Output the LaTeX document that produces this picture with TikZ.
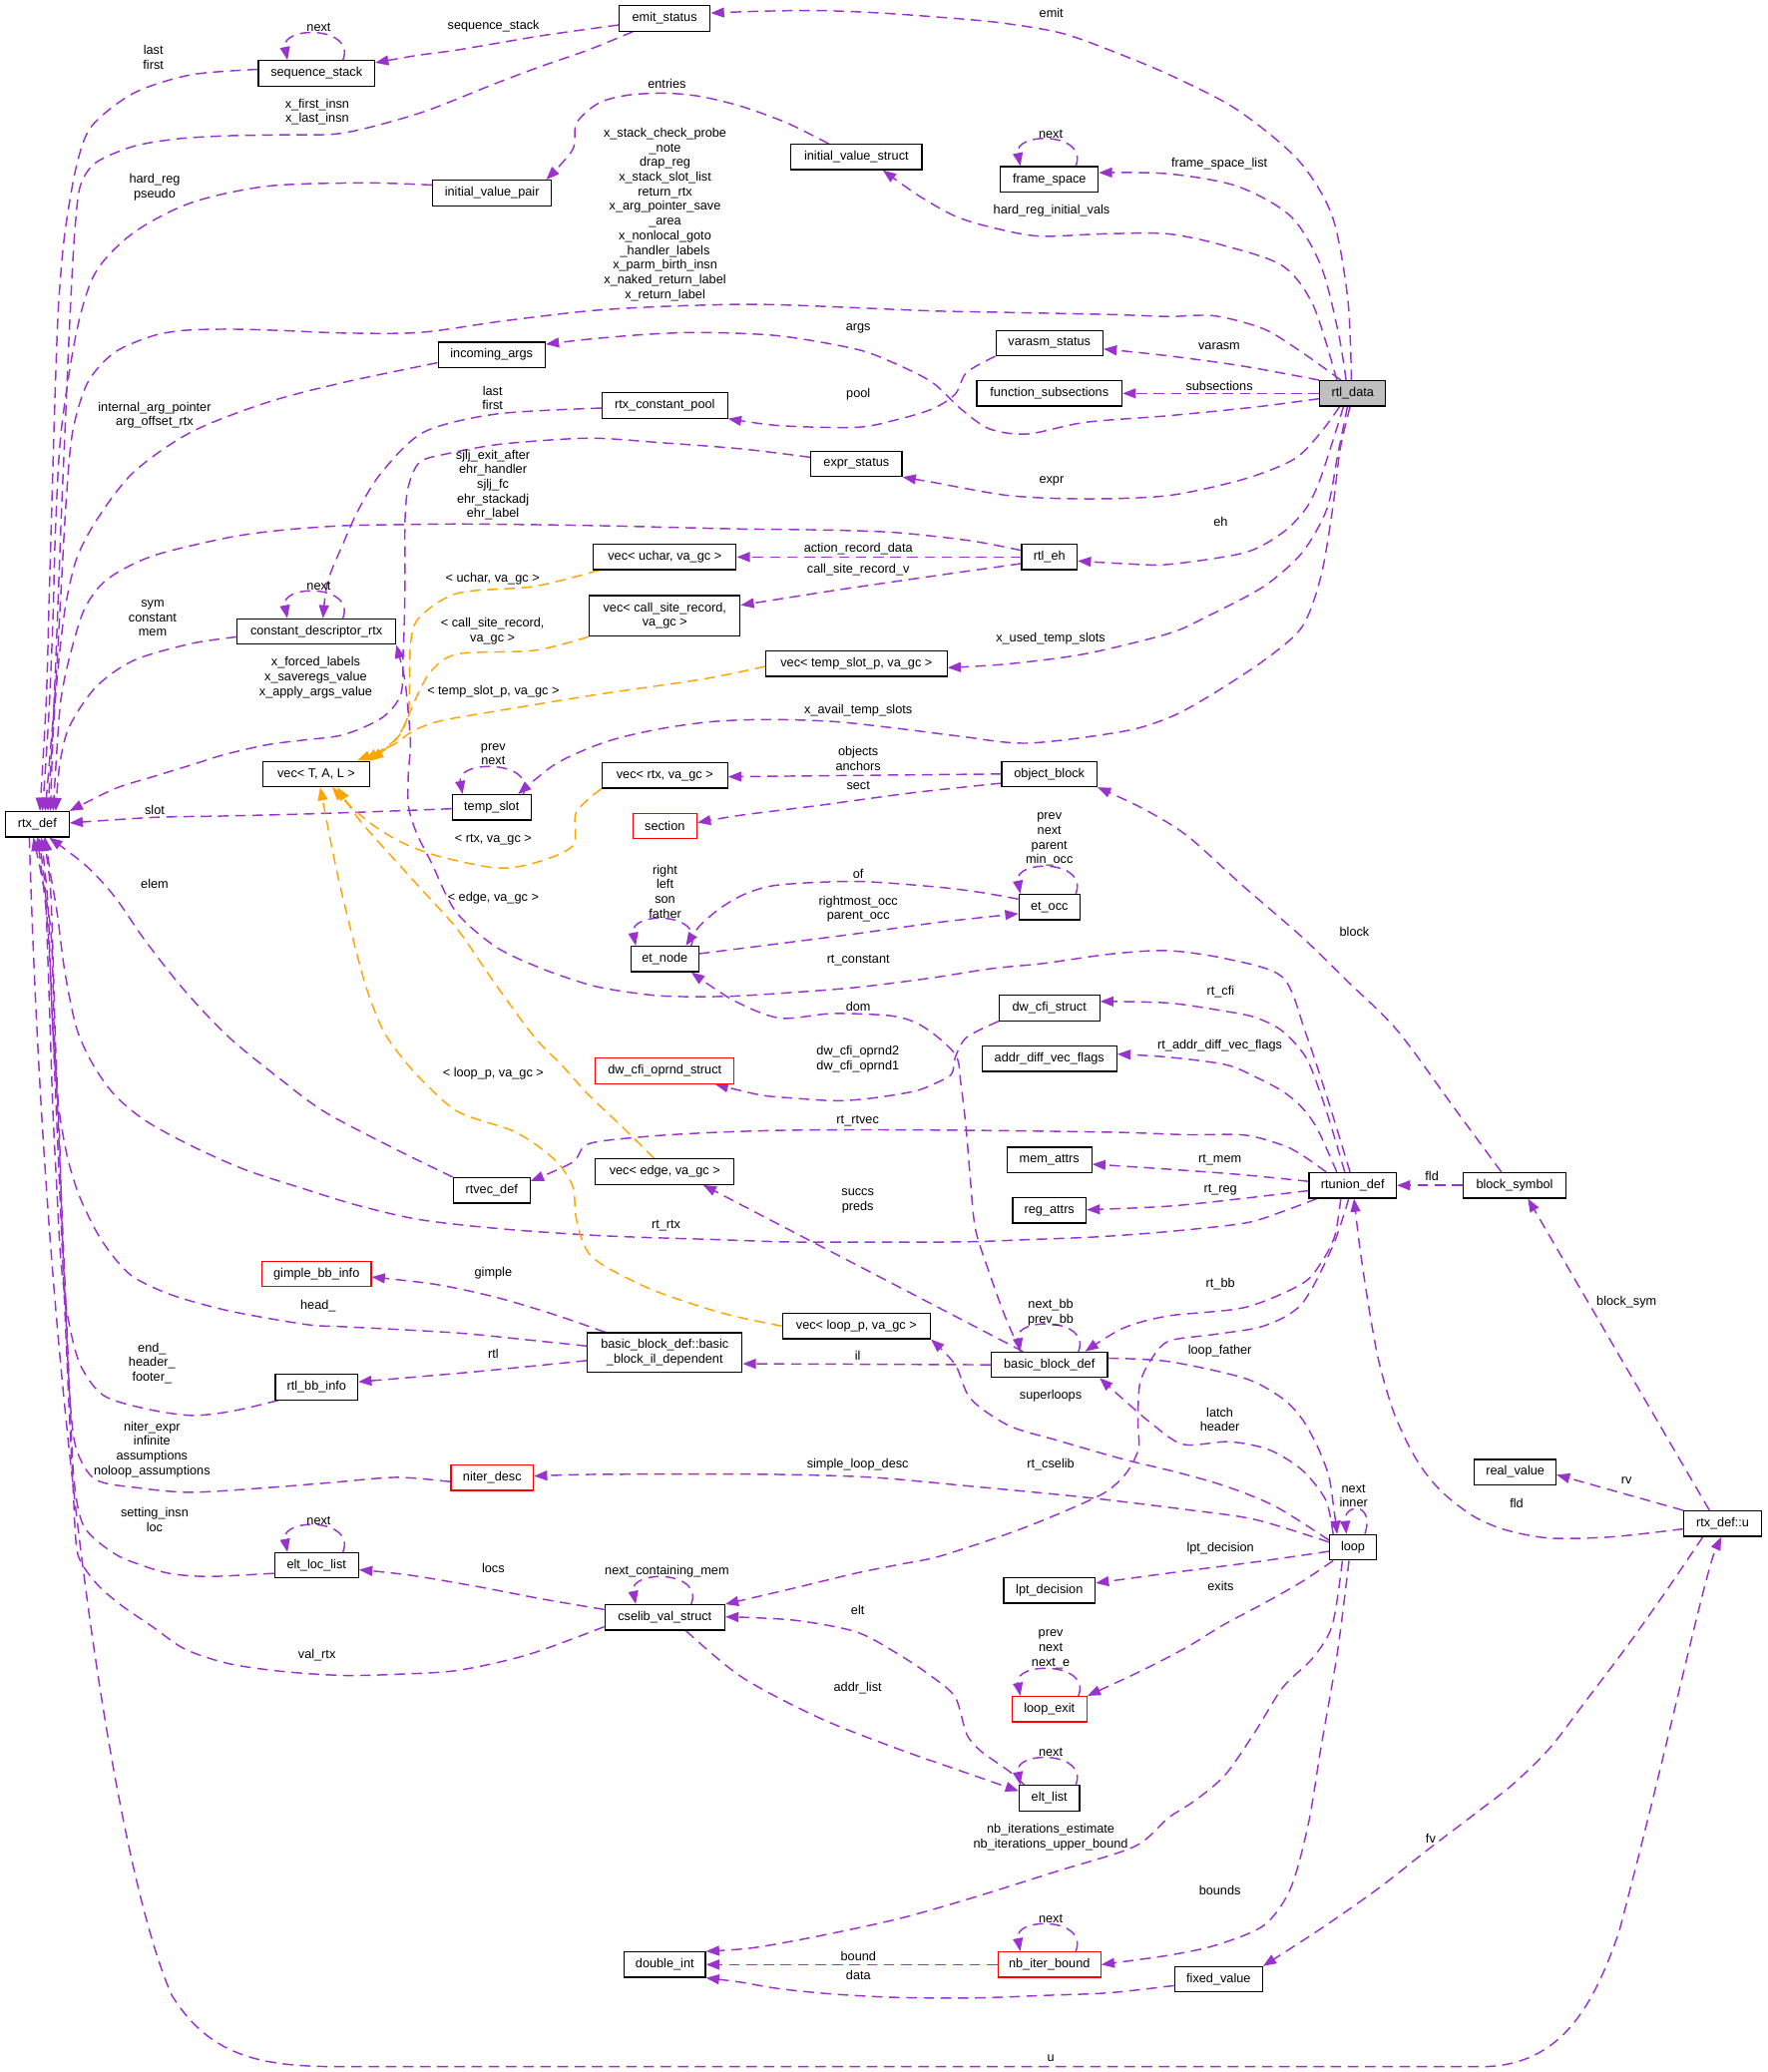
\documentclass[tikz,border=0pt]{standalone}
\usepackage{fontspec}
\setmainfont{Liberation Sans}
\usetikzlibrary{arrows.meta,backgrounds}
\definecolor{memberedge}{HTML}{9A32CD}
\definecolor{templedge}{HTML}{FFA500}
\definecolor{focusfill}{HTML}{BFBFBF}
\begin{document}
\begin{tikzpicture}[x=1pt,y=-1pt,
cls/.style={draw=black,fill=white,line width=0.9pt,inner sep=0pt,minimum height=19.2pt,font=\fontsize{9.6}{11.1}\selectfont,align=center},
undoc/.style={cls,draw=red},
focus/.style={cls,fill=focusfill},
lbl/.style={inner sep=0pt,font=\fontsize{9.6}{11.1}\selectfont,align=center},
member/.style={draw=memberedge,line width=1.1pt,dash pattern=on 8pt off 5pt,-{Triangle[length=10pt,width=7.5pt]}},
templ/.style={member,draw=templedge}]
\useasboundingbox (0,0) rectangle (1337,1568);
\node[cls,minimum width=69] (emit) at (502.9,13.9) {emit\_status};
\node[cls,minimum width=88] (seqstack) at (239.5,55.5) {sequence\_stack};
\node[cls,minimum width=99] (ivstruct) at (648,118.8) {initial\_value\_struct};
\node[cls,minimum width=74] (framesp) at (794,135.7) {frame\_space};
\node[cls,minimum width=90] (ivpair) at (372.3,146) {initial\_value\_pair};
\node[cls,minimum width=81] (incargs) at (372,268.5) {incoming\_args};
\node[cls,minimum width=81] (varasm) at (794,259.6) {varasm\_status};
\node[cls,minimum width=110] (funcsub) at (794,297.7) {function\_subsections};
\node[focus,minimum width=50] (rtldata) at (1023.5,297.7) {rtl\_data};
\node[cls,minimum width=95] (cpool) at (503,306.8) {rtx\_constant\_pool};
\node[cls,minimum width=69] (exprst) at (648,351) {expr\_status};
\node[cls,minimum width=42] (rtleh) at (794,421.5) {rtl\_eh};
\node[cls,minimum width=108] (vecuchar) at (503,421.5) {vec< uchar, va\_gc >};
\node[cls,minimum width=114,minimum height=30.7] (veccsr) at (503,466) {vec< call\_site\_record,\\va\_gc >};
\node[cls,minimum width=137] (vectsp) at (648,502.3) {vec< temp\_slot\_p, va\_gc >};
\node[cls,minimum width=120] (cdr) at (239.4,478) {constant\_descriptor\_rtx};
\node[cls,minimum width=81] (vectal) at (239.3,585.7) {vec< T, A, L >};
\node[cls,minimum width=59.5] (tempslot) at (372,611) {temp\_slot};
\node[cls,minimum width=48] (rtxdef) at (28.2,623.8) {rtx\_def};
\node[cls,minimum width=95] (vecrtx) at (503,586.8) {vec< rtx, va\_gc >};
\node[cls,minimum width=72] (objblock) at (794,585.7) {object\_block};
\node[undoc,minimum width=48.6] (section) at (503,625) {section};
\node[cls,minimum width=46] (etocc) at (794,686.4) {et\_occ};
\node[cls,minimum width=51.4] (etnode) at (503,725.7) {et\_node};
\node[cls,minimum width=76] (dwcfi) at (794,762.8) {dw\_cfi\_struct};
\node[undoc,minimum width=105] (dwcfiop) at (503,810.4) {dw\_cfi\_oprnd\_struct};
\node[cls,minimum width=102] (adfv) at (794,801.2) {addr\_diff\_vec\_flags};
\node[cls,minimum width=64] (memattrs) at (794,877.7) {mem\_attrs};
\node[cls,minimum width=55.5] (regattrs) at (794,916) {reg\_attrs};
\node[cls,minimum width=58] (rtvecdef) at (372,900.8) {rtvec\_def};
\node[cls,minimum width=105] (vecedge) at (503,886.7) {vec< edge, va\_gc >};
\node[cls,minimum width=66] (rtunion) at (1023.5,897) {rtunion\_def};
\node[cls,minimum width=78] (blocksym) at (1146,897) {block\_symbol};
\node[undoc,minimum width=82.6] (gimplebb) at (239.5,964) {gimple\_bb\_info};
\node[cls,minimum width=112] (vecloop) at (648,1003.5) {vec< loop\_p, va\_gc >};
\node[cls,minimum width=117,minimum height=30] (bbil) at (503,1023.6) {basic\_block\_def::basic\\\_block\_il\_dependent};
\node[cls,minimum width=88] (bbdef) at (794,1032.8) {basic\_block\_def};
\node[cls,minimum width=62.4] (rtlbb) at (239.5,1049.7) {rtl\_bb\_info};
\node[cls,minimum width=61.6] (realval) at (1146.5,1114) {real\_value};
\node[undoc,minimum width=62.4] (niterdesc) at (372.4,1118.3) {niter\_desc};
\node[cls,minimum width=58.7] (rtxu) at (1303.4,1153) {rtx\_def::u};
\node[cls,minimum width=35.4] (loopn) at (1023.7,1171) {loop};
\node[cls,minimum width=63.6] (eltloc) at (239.5,1184.6) {elt\_loc\_list};
\node[cls,minimum width=69] (lptdec) at (794,1203.6) {lpt\_decision};
\node[cls,minimum width=90.7] (cselib) at (503,1224) {cselib\_val\_struct};
\node[undoc,minimum width=56.6] (loopexit) at (794,1293.4) {loop\_exit};
\node[cls,minimum width=45.6] (eltlist) at (794,1360.8) {elt\_list};
\node[cls,minimum width=61.5] (dblint) at (503,1486.7) {double\_int};
\node[undoc,minimum width=77.7] (nbiter) at (794,1486.7) {nb\_iter\_bound};
\node[cls,minimum width=66.4] (fixedval) at (922,1497.9) {fixed\_value};
\node[lbl] (l1) at (795.5,9.6) {emit};
\node[lbl] (l2) at (373.4,20.1) {sequence\_stack};
\node[lbl] (l3) at (241.2,20.9) {next};
\node[lbl] (l4) at (116,43.2) {last\\first};
\node[lbl] (l5) at (240,84.7) {x\_first\_insn\\x\_last\_insn};
\node[lbl] (l6) at (504.6,63.2) {entries};
\node[lbl] (l7) at (503.2,162.3) {x\_stack\_check\_probe\\\_note\\drap\_reg\\x\_stack\_slot\_list\\return\_rtx\\x\_arg\_pointer\_save\\\_area\\x\_nonlocal\_goto\\\_handler\_labels\\x\_parm\_birth\_insn\\x\_naked\_return\_label\\x\_return\_label};
\node[lbl] (l8) at (795,101.7) {next};
\node[lbl] (l9) at (922.6,123.6) {frame\_space\_list};
\node[lbl] (l10) at (117,141.8) {hard\_reg\\pseudo};
\node[lbl] (l11) at (795.7,159.8) {hard\_reg\_initial\_vals};
\node[lbl] (l12) at (649.4,248.6) {args};
\node[lbl] (l13) at (922.5,261.7) {varasm};
\node[lbl] (l14) at (922.6,291.9) {subsections};
\node[lbl] (l15) at (649.4,298.2) {pool};
\node[lbl] (l16) at (117,314.2) {internal\_arg\_pointer\\arg\_offset\_rtx};
\node[lbl] (l17) at (372.7,301.2) {last\\first};
\node[lbl] (l18) at (373,367) {sjlj\_exit\_after\\ehr\_handler\\sjlj\_fc\\ehr\_stackadj\\ehr\_label};
\node[lbl] (l19) at (795.6,364.4) {expr};
\node[lbl] (l20) at (923.6,394.5) {eh};
\node[lbl] (l21) at (649.4,415.7) {action\_record\_data};
\node[lbl] (l22) at (649.4,431) {call\_site\_record\_v};
\node[lbl] (l23) at (241.2,443.7) {next};
\node[lbl] (l24) at (372.7,437.9) {< uchar, va\_gc >};
\node[lbl] (l25) at (115.5,468) {sym\\constant\\mem};
\node[lbl] (l26) at (372.7,477.4) {< call\_site\_record,\\va\_gc >};
\node[lbl] (l27) at (795,483) {x\_used\_temp\_slots};
\node[lbl] (l28) at (238.9,512.9) {x\_forced\_labels\\x\_saveregs\_value\\x\_apply\_args\_value};
\node[lbl] (l29) at (373.2,523.3) {< temp\_slot\_p, va\_gc >};
\node[lbl] (l30) at (649.4,537.4) {x\_avail\_temp\_slots};
\node[lbl] (l31) at (373.2,570.8) {prev\\next};
\node[lbl] (l32) at (649.4,573.9) {objects\\anchors};
\node[lbl] (l33) at (649.4,594.8) {sect};
\node[lbl] (l34) at (117,612.7) {slot};
\node[lbl] (l35) at (373.2,635.1) {< rtx, va\_gc >};
\node[lbl] (l36) at (794,635.3) {prev\\next\\parent\\min\_occ};
\node[lbl] (l37) at (503.2,674.6) {right\\left\\son\\father};
\node[lbl] (l38) at (649.4,661.2) {of};
\node[lbl] (l39) at (117,669.1) {elem};
\node[lbl] (l40) at (373.2,679.8) {< edge, va\_gc >};
\node[lbl] (l41) at (649.4,688) {rightmost\_occ\\parent\_occ};
\node[lbl] (l42) at (1024.8,705.3) {block};
\node[lbl] (l43) at (649.4,726.5) {rt\_constant};
\node[lbl] (l44) at (923.6,750.8) {rt\_cfi};
\node[lbl] (l45) at (649.4,761.4) {dom};
\node[lbl] (l46) at (923,791.6) {rt\_addr\_diff\_vec\_flags};
\node[lbl] (l47) at (649.1,801.6) {dw\_cfi\_oprnd2\\dw\_cfi\_oprnd1};
\node[lbl] (l48) at (373.2,812.6) {< loop\_p, va\_gc >};
\node[lbl] (l49) at (649,848.3) {rt\_rtvec};
\node[lbl] (l50) at (923,877.9) {rt\_mem};
\node[lbl] (l51) at (649,908.6) {succs\\preds};
\node[lbl] (l52) at (923.4,900.6) {rt\_reg};
\node[lbl] (l53) at (1083.4,890) {fld};
\node[lbl] (l54) at (504,927.7) {rt\_rtx};
\node[lbl] (l55) at (373.2,963.1) {gimple};
\node[lbl] (l56) at (923.4,971.6) {rt\_bb};
\node[lbl] (l57) at (1230.7,985.2) {block\_sym};
\node[lbl] (l58) at (795,993) {next\_bb\\prev\_bb};
\node[lbl] (l59) at (240.7,988.2) {head\_};
\node[lbl] (l60) at (923,1022.6) {loop\_father};
\node[lbl] (l61) at (649,1025.9) {il};
\node[lbl] (l62) at (115,1031.6) {end\_\\header\_\\footer\_};
\node[lbl] (l63) at (373.2,1024.2) {rtl};
\node[lbl] (l64) at (795,1056.5) {superloops};
\node[lbl] (l65) at (923,1074.3) {latch\\header};
\node[lbl] (l66) at (115,1096.8) {niter\_expr\\infinite\\assumptions\\noloop\_assumptions};
\node[lbl] (l67) at (649,1108.6) {simple\_loop\_desc};
\node[lbl] (l68) at (795,1108.6) {rt\_cselib};
\node[lbl] (l69) at (1230.7,1120.3) {rv};
\node[lbl] (l70) at (1024.2,1131.9) {next\\inner};
\node[lbl] (l71) at (1147.5,1138) {fld};
\node[lbl] (l72) at (117,1150) {setting\_insn\\loc};
\node[lbl] (l73) at (241.2,1150.5) {next};
\node[lbl] (l74) at (923.4,1171.7) {lpt\_decision};
\node[lbl] (l75) at (373.2,1186.9) {locs};
\node[lbl] (l76) at (504.6,1189.4) {next\_containing\_mem};
\node[lbl] (l77) at (923.6,1200.6) {exits};
\node[lbl] (l78) at (649,1218.6) {elt};
\node[lbl] (l79) at (795,1248) {prev\\next\\next\_e};
\node[lbl] (l80) at (239.8,1252.9) {val\_rtx};
\node[lbl] (l81) at (649,1277.8) {addr\_list};
\node[lbl] (l82) at (795,1326.2) {next};
\node[lbl] (l83) at (795,1390.4) {nb\_iterations\_estimate\\nb\_iterations\_upper\_bound};
\node[lbl] (l84) at (1082.5,1391) {fv};
\node[lbl] (l85) at (923,1430.2) {bounds};
\node[lbl] (l86) at (795,1452.4) {next};
\node[lbl] (l87) at (649.5,1480) {bound};
\node[lbl] (l88) at (649.5,1495) {data};
\node[lbl] (l89) at (795,1557.9) {u};
\begin{scope}[on background layer]
\draw[member] plot[smooth] coordinates {([xshift=-1]rtldata.north) (1019.8,226.5) (1008,163.6) (982,120.8) (936,83) (890,59) (850,42) (803.6,25.2) (755,17) (705.4,12.6) (660,9.5) (618.8,8) (575,8.5) ([yshift=4]emit.east)};
\draw[member] plot[smooth] coordinates {([xshift=-5]rtldata.north) (1012.6,251.6) (999.5,201.3) (976.5,163.6) (936,140.9) (884,131.5) ([yshift=5]framesp.east)};
\draw[member] plot[smooth] coordinates {([xshift=-12]rtldata.north) (993.8,231.5) (970.7,201.3) (927.4,186.2) (884,177) (835,177) (786,178.7) (750,172) (722.8,163.6) (695,148) ([xshift=20]ivstruct.south)};
\draw[member] plot[smooth] coordinates {([xshift=-9]rtldata.north) (985.2,266.7) (956.3,249) (918.7,239) (884,239.5) (840,238) (790,237) (740,236) (705.4,235.3) (650,233) (600,231) (561,230.3) (500,232) (445.4,235.3) (380,243) (317.8,251.6) (260,252) (210,250) (173.3,249.1) (140,250) (115.5,254.2) (86.7,266.7) (66.4,289.4) (54.9,327.1) (50,380) (46,450) (42,520) ([xshift=6]rtxdef.north)};
\draw[member] plot[smooth] coordinates {(rtldata.north west) (940,277) (884,269.3) ([yshift=-4.5]varasm.east)};
\draw[member] (rtldata.west) -- (funcsub.east);
\draw[member] plot[smooth] coordinates {([yshift=-4]rtldata.west) (950,308) (884,314.6) (821,319.6) (777.6,328.4) (748.8,324.6) (727.1,309.5) (705.4,289.4) (677,275) (647.7,264.2) (589.8,254.2) (532,251.6) (490,253) (445.4,256.7) ([yshift=8]incargs.east)};
\draw[member] plot[smooth] coordinates {(varasm.south west) (731.4,281.8) (722.8,298.2) (705.4,309.5) (677,318) (647.7,323.4) (589.8,322.1) (cpool.south east)};
\draw[member] plot[smooth] coordinates {([xshift=-10]rtldata.south) (999.5,327.1) (979.4,347.3) (941.8,362.4) (884,375) (821,377.5) (763.3,375) (705.4,364.9) (exprst.south east)};
\draw[member] plot[smooth] coordinates {([xshift=-7]rtldata.south) (1008,335) (998,365) (988,385) (970.7,402.9) (941.8,418.2) (884,427.1) (850,426.5) ([yshift=-3]rtleh.east)};
\draw[member] plot[smooth] coordinates {([xshift=-4]rtldata.south) (1012,345) (1004,385) (985.2,418.2) (956.3,443.7) (913,466.7) (884,479.5) (821,494.8) (763.3,502.4) ([yshift=-3]vectsp.east)};
\draw[member] plot[smooth] coordinates {([xshift=-2]rtldata.south) (1014,340) (1008.3,385) (999.5,436) (985.2,474.3) (956.3,499.8) (913,528) (884,543.3) (849.8,553.5) (777.6,562.4) (725,557) (676.5,550.9) (630,546) (581.2,544.5) (540,546) (503.2,550.9) (470,558) (445.4,566.2) (419,579) ([xshift=20]tempslot.north)};
\draw[member] plot[smooth] coordinates {([yshift=-5]emit.west) (410,27) (346.7,37.7) (315,42) ([yshift=8]seqstack.east)};
\draw[member] plot[smooth] coordinates {([xshift=-24]emit.south) (445.4,37.7) (410,50) (375.6,62.9) (317.8,85.5) (260,100.6) (215,102) (173.3,102.7) (135,105) (101.1,110.7) (72.2,123.3) (60.7,140.9) (57,170) (54.9,201.3) (52,260) (49,330) (46,400) (43,480) (40,550) ([xshift=8]rtxdef.north)};
\draw[member] ([xshift=20]seqstack.north) .. controls +(10,-26) and +(-5,-26) .. ([xshift=-22]seqstack.north);
\draw[member] plot[smooth] coordinates {([yshift=3]seqstack.west) (144.4,56.6) (101.1,70.5) (69.3,95.6) (57.8,125.8) (49.1,176.1) (45,220) (43.3,251.6) (41,320) (39,390) (37,460) (35,530) ([xshift=2]rtxdef.north)};
\draw[member] plot[smooth] coordinates {([xshift=-21]ivstruct.north) (595.6,93.1) (561,80.5) (530,73) (503.2,70.5) (475,72) (453,78) (436.2,93.1) (433.3,113.2) ([xshift=41]ivpair.north)};
\draw[member] plot[smooth] coordinates {([yshift=6]ivpair.west) (274.4,138.4) (202.2,140.9) (144.4,153.5) (101.1,176.1) (72.2,206.3) (57.8,251.6) (46.2,327.1) (42,400) (40,470) (37,540) ([xshift=4]rtxdef.north)};
\draw[member] ([xshift=20]framesp.north) .. controls +(10,-26) and +(-5,-26) .. ([xshift=-22]framesp.north);
\draw[member] plot[smooth] coordinates {([yshift=-6]incargs.west) (260,289.4) (202.2,304.5) (144.4,327.1) (101.1,357.3) (73.7,392.6) (57.8,423.3) (49.1,461.6) (43.3,512.6) (40,560) ([xshift=10]rtxdef.north)};
\draw[member] plot[smooth] coordinates {([yshift=-2]cpool.west) (375.6,313.3) (320.7,327) (288.9,357.3) (271.6,385) (260,410.5) (248,440) ([xshift=5]cdr.north)};
\draw[member] plot[smooth] coordinates {([yshift=5]rtleh.west) (734.3,409.2) (676.5,402.9) (620,401) (561,400.3) (505,399) (453,397.8) (400,397) (346.7,396.5) (300,397) (260,397.8) (215,401) (173.3,406.7) (115.5,420.7) (80.9,438.6) (63.6,461.6) (52,499.8) (46,530) (43.3,563.6) ([xshift=12]rtxdef.north)};
\draw[member] plot[smooth] coordinates {([yshift=5]exprst.west) (561,339.7) (500,335) (445.4,331.6) (380,336) (340,343) (317.8,349.6) (309,368) (306.5,392.6) (306.4,430) (306.2,461.6) (305,495) (303.3,525.4) (288.9,543.3) (260,556) (230,560) (202.2,563.6) (170,571) (144.4,579) (115,588) (86.7,596.9) (rtxdef.north east)};
\draw[templ] plot[smooth] coordinates {([xshift=-50]vecuchar.south) (404.4,443.7) (346.7,448.8) (317.8,466.7) (310.6,487.1) (309.1,538.1) (300.5,558.6) (vectal.north east)};
\draw[templ] plot[smooth] coordinates {(veccsr.south west) (404.4,492.2) (346.7,494.8) (326.4,507.6) (314.9,528) (306.2,548.4) (297.6,561.2) ([xshift=-4]vectal.north east)};
\draw[templ] plot[smooth] coordinates {([yshift=-2]vectsp.west) (532,513.9) (453,525.4) (375.6,538.1) (332.2,545.8) (312,553.5) (297.6,563.6) ([xshift=-10]vectal.north east)};
\draw[member] ([xshift=20]cdr.north) .. controls +(10,-26) and +(-5,-26) .. ([xshift=-22]cdr.north);
\draw[member] plot[smooth] coordinates {([yshift=-4]cdr.west) (144.4,487.1) (101.1,499.8) (72.2,520.3) (52,550.9) (45,580) ([xshift=14]rtxdef.north)};
\draw[member] ([xshift=24]tempslot.north) .. controls +(10,-26) and +(-5,-26) .. ([xshift=-22]tempslot.north);
\draw[member] plot[smooth] coordinates {([yshift=-1]tempslot.west) (290,614) (231,616) (170,617.5) (115.5,618.6) ([yshift=1]rtxdef.east)};
\draw[member] (objblock.west) -- ([yshift=-1]vecrtx.east);
\draw[member] plot[smooth] coordinates {([yshift=-7]objblock.west) (690,600) (618.8,609.6) (560,617) ([yshift=2.5]section.east)};
\draw[member] plot[smooth] coordinates {([yshift=6]etocc.west) (740,675) (705.4,670.9) (647.7,667) (589.8,669.6) (565,676) (546.5,686.2) (530,700) ([xshift=16]etnode.north)};
\draw[member] plot[smooth] coordinates {([yshift=4]etnode.east) (590,714) (647.7,706.6) (710,698) ([yshift=-5]etocc.west)};
\draw[member] ([xshift=20]etnode.north) .. controls +(10,-26) and +(-5,-26) .. ([xshift=-22]etnode.north);
\draw[member] ([xshift=20]etocc.north) .. controls +(10,-26) and +(-5,-26) .. ([xshift=-22]etocc.north);
\draw[member] plot[smooth] coordinates {([xshift=-2]rtunion.north) (1004,830) (988,782) (970.7,739.8) (930,726) (884,719.4) (840,722) (790,729) (750,733) (705,740) (650,747) (600,751) (550,754) (503,753.8) (470,750) (445,745) (410,733) (375.6,716.8) (345,690) (326.5,653) (315,630) (309,609.6) (309,585) (310.6,563.6) (309,540) (306,512.6) (cdr.south east)};
\draw[member] plot[smooth] coordinates {([xshift=-6]rtunion.north) (1008,855) (999.5,828.6) (988,800) (970,780) (950,770) (927.4,765.3) (884,759) ([yshift=5]dwcfi.east)};
\draw[member] plot[smooth] coordinates {(dwcfi.south west) (731.4,785) (722.8,800) (719.8,813) (705,821) (691,826) (660,831) (633,833) (600,831) (575,828.6) ([xshift=38]dwcfiop.south)};
\draw[member] plot[smooth] coordinates {([xshift=-12]rtunion.north) (996.7,854.2) (985,838) (970.7,826) (950,815) (927.4,805.7) (884,800) ([yshift=3.5]adfv.east)};
\draw[member] plot[smooth] coordinates {([xshift=-20]rtunion.north) (985,874) (970.7,866.7) (941.8,859) (898,858.7) (850,857) (790,856) (734.3,855.4) (680,855) (630,855) (589.8,855.4) (540,857) (490,860) (445.4,865.6) (433.3,879.5) ([yshift=7]rtvecdef.east)};
\draw[member] plot[smooth] coordinates {(rtvecdef.north west) (300,870) (245.6,841.4) (210,815) (173.3,785) (140,750) (110,712) (86.7,678.5) (65,655) ([xshift=9]rtxdef.south)};
\draw[member] plot[smooth] coordinates {([yshift=3]rtunion.west) (940,889) (884,884.8) ([yshift=-3.3]memattrs.east)};
\draw[member] plot[smooth] coordinates {([yshift=-4]rtunion.west) (940,907) (884,912.8) ([yshift=0.5]regattrs.east)};
\draw[member] plot[smooth] coordinates {([xshift=-27]rtunion.south) (970,917) (941.8,925.6) (884,932) (830,936) (780,938) (734.3,939.7) (680,940) (630,940) (589.8,939.7) (540,938) (490,936.5) (445.4,934.6) (380,930) (317.8,923) (270,912) (231,900) (185,885) (144.4,866.9) (110,848) (86.7,828.6) (70,805) (57.8,777.6) (49,735) (43.3,691.3) (38,660) ([xshift=6]rtxdef.south)};
\draw[member] (blocksym.west) -- (rtunion.east);
\draw[member] plot[smooth] coordinates {([xshift=-10]blocksym.north) (1100,838) (1057.4,780) (1020,743) (985,709) (940,670) (898.4,632.6) (865,612) (objblock.south east)};
\draw[member] ([xshift=-10]rtxu.north) -- ([xshift=10]blocksym.south);
\draw[member] plot[smooth] coordinates {([yshift=-4]rtxu.west) (1220,1163) (1173,1164) (1140,1158) (1115,1147.5) (1090,1128) (1071.8,1104.7) (1055,1070) (1043,1029) (1035,985) (1028.5,941.2) ([xshift=1]rtunion.south)};
\draw[member] (rtxu.north west) -- ([yshift=-2]realval.east);
\draw[member] plot[smooth] coordinates {([xshift=-15]rtxu.south) (1260,1205) (1230.7,1246.3) (1200,1287) (1173,1322.4) (1145,1350) (1115.2,1373.2) (1080,1400) (1043,1429) (999.5,1459.5) (fixedval.north east)};
\draw[member] ([xshift=-6]rtxdef.south) .. controls (36,1100) and (90,1420) .. (130,1510) .. controls (160,1558) and (200,1564) .. (260,1564) -- (1120,1564) .. controls (1180,1564) and (1205,1520) .. (1225,1462) .. controls (1262,1322) and (1290,1190) .. ([xshift=-1]rtxu.south);
\draw[member] (rtleh.west) -- (vecuchar.east);
\draw[member] plot[smooth] coordinates {([yshift=-5]rtleh.west) (705.4,436) (630,447) ([yshift=8]veccsr.east)};
\draw[member] plot[smooth] coordinates {([xshift=-22]bbdef.north) (760,995) (748.8,963.9) (738,930) (734,890) (731,854) (727,820) (722.8,798) (699.6,777.6) (676.4,769) (630,767) (589.8,770.4) (555,757) ([xshift=20]etnode.south)};
\draw[member] ([xshift=-20]bbdef.north) -- ([xshift=29]vecedge.south);
\draw[member] ([xshift=22]bbdef.north) .. controls +(10,-26) and +(-5,-26) .. ([xshift=-22]bbdef.north);
\draw[member] plot[smooth] coordinates {([xshift=-9]rtunion.south) (1010,935) (1000,955) (985,971.6) (941.8,989.4) (884,995.8) (850,1005) ([xshift=27]bbdef.north)};
\draw[member] plot[smooth] coordinates {([xshift=-3]rtunion.south) (1008.2,943.5) (985,986.7) (956.3,1003.4) (918.8,1009.8) (884,1015) (870,1030.3) (863,1045) (861.4,1058.4) (861,1078) (861.4,1096.6) (852,1115) (835.4,1129.8) (800,1146) (763.3,1160.4) (711,1177.7) (680,1184) (647.7,1190.5) (600,1202) (cselib.north east)};
\draw[member] (bbdef.west) -- ([yshift=-8.4]bbil.east);
\draw[member] plot[smooth] coordinates {([xshift=-45]bbil.north) (420,995) (375.6,981.8) (330,972) ([yshift=-2.4]gimplebb.east)};
\draw[member] plot[smooth] coordinates {([yshift=5]bbil.west) (400,1014) (350,1009) (300,1006) (260,1004) (231,1002.2) (173.3,992) (130,980) (101,966.4) (85,950) (72.2,930.7) (60,905) (52,879.7) (47,855) (43.3,828.6) (40,780) (38,730) (36,680) ([xshift=3]rtxdef.south)};
\draw[member] plot[smooth] coordinates {([yshift=-6]bbil.west) (360,1038) ([yshift=4]rtlbb.east)};
\draw[member] plot[smooth] coordinates {([xshift=-29]rtlbb.south) (175,1068) (144.4,1071.1) (110,1066) (78,1055.8) (60.7,1032.7) (52,1000) (46.2,956) (43,900) (40,840) (38,780) (36,720) (34,670) ([xshift=1]rtxdef.south)};
\draw[member] ([xshift=9]loopn.north) .. controls +(8,-24) and +(-2,-24) .. ([xshift=-5]loopn.north);
\draw[member] plot[smooth] coordinates {([yshift=5]bbdef.east) (884,1030.3) (941.8,1043) (970,1058) (985,1073.5) (997,1095) (1005.4,1117) (1009,1140) ([xshift=-12]loopn.north)};
\draw[member] plot[smooth] coordinates {([xshift=-15]loopn.north) (1003,1135) (985,1112.3) (960,1097) (930,1091) (895,1093) (870,1076.2) (850,1059) ([xshift=38]bbdef.south)};
\draw[member] plot[smooth] coordinates {([yshift=5.5]loopn.west) (965,1140) (927.4,1124.7) (890,1114) (850,1104.3) (800,1090) (763.3,1078.8) (734.3,1058.4) (722.8,1032.7) (vecloop.south east)};
\draw[member] plot[smooth] coordinates {([yshift=4]loopn.west) (950,1150) (898.4,1142.5) (820,1133) (734.3,1124.7) (660,1118) (589.8,1115.8) (520,1115.5) (445.4,1115.8) ([yshift=1.3]niterdesc.east)};
\draw[member] plot[smooth] coordinates {([yshift=-3]niterdesc.west) (300,1118) (250,1122) (200,1126) (144.4,1129.3) (105,1126) (72.2,1119.6) (57.8,1096.6) (53,1060) (50,1000) (47,930) (45,860) (42,790) (40,720) (38,670) ([xshift=5]rtxdef.south)};
\draw[member] plot[smooth] coordinates {([yshift=-3]loopn.west) (950,1182) (884,1190.5) ([yshift=5.6]lptdec.east)};
\draw[member] plot[smooth] coordinates {([xshift=-15]loopn.south) (985,1197) (956.3,1213.3) (925,1230) (898.4,1246.3) (864.4,1264) (loopexit.north east)};
\draw[member] plot[smooth] coordinates {([xshift=-8]loopn.south) (1008,1230) (993,1255) (970.7,1276.8) (950,1310) (927.4,1342.7) (905,1362) (884,1375.7) (858.5,1397.3) (800,1416) (734.3,1436.6) (680,1452) (620,1465) (570,1474) (dblint.north east)};
\draw[member] plot[smooth] coordinates {([xshift=-3]loopn.south) (1012,1250) (999.5,1322.4) (990,1380) (976.5,1429) (956.3,1457) (920,1472) (884,1479.7) (nbiter.east)};
\draw[member] ([xshift=20]nbiter.north) .. controls +(10,-26) and +(-5,-26) .. ([xshift=-22]nbiter.north);
\draw[member] (nbiter.west) -- (dblint.east);
\draw[member] plot[smooth] coordinates {([yshift=-4.7]fixedval.west) (840,1508) (792,1510) (735,1512) (676.5,1511.5) (630,1509) (589.8,1505) (560,1500) (dblint.south east)};
\draw[member] ([xshift=20]cselib.north) .. controls +(10,-26) and +(-5,-26) .. ([xshift=-22]cselib.north);
\draw[member] plot[smooth] coordinates {([yshift=6]cselib.west) (410,1210) (361,1200.6) (310,1192) ([yshift=-3.3]eltloc.east)};
\draw[member] plot[smooth] coordinates {([yshift=-7]cselib.west) (400,1252) (346.7,1264) (300,1267) (260,1267.9) (215,1265) (173.3,1259) (140,1248) (115.5,1231.1) (92,1215) (75.1,1200.6) (63,1185) (57.8,1170) (55,1120) (52,1060) (49,990) (46,920) (43,850) (40,780) (36,700) (rtxdef.south)};
\draw[member] ([xshift=20]eltloc.north) .. controls +(10,-26) and +(-5,-26) .. ([xshift=-22]eltloc.north);
\draw[member] plot[smooth] coordinates {([yshift=-6]eltloc.west) (158.9,1193) (130,1191) (109.8,1185.4) (86.7,1175.8) (63.6,1155.3) (56,1120) (53,1060) (50,990) (47,920) (44,850) (41,780) (38,700) ([xshift=-3]rtxdef.south)};
\draw[member] plot[smooth] coordinates {([xshift=16]cselib.south) (561,1269) (618.8,1299.5) (676.5,1322.4) (734.3,1342.7) ([yshift=5.4]eltlist.west)};
\draw[member] plot[smooth] coordinates {([xshift=-19]eltlist.north) (763.3,1340.2) (742,1325) (731.4,1312.2) (722.8,1284.4) (705.4,1269) (680,1252) (647.7,1234.9) (600,1226) ([yshift=0.5]cselib.east)};
\draw[member] ([xshift=20]eltlist.north) .. controls +(10,-26) and +(-5,-26) .. ([xshift=-22]eltlist.north);
\draw[member] ([xshift=22]loopexit.north) .. controls +(10,-26) and +(-5,-26) .. ([xshift=-22]loopexit.north);
\draw[templ] plot[smooth] coordinates {([xshift=-8]vecedge.north) (470,852) (445.4,828.6) (425,806) (404.5,785) (375,745) (346.7,704) (318,672) (289,640) (270,618) ([xshift=16]vectal.south)};
\draw[templ] plot[smooth] coordinates {(vecrtx.south west) (436,614.6) (433.4,640) (404.5,653) (375.6,656.8) (332,648) (305,638) (283,625) (265,610) ([xshift=12]vectal.south)};
\draw[templ] plot[smooth] coordinates {(vecloop.west) (560,997) (532,989.4) (488.7,974) (447.7,951) (436.2,923) (433.3,897.6) (419,877) (390,856.7) (346.7,841.4) (317.8,815.9) (300,795) (289,778) (278,750) (268.7,716.8) (255,660) ([xshift=3]vectal.south)};
\end{scope}
\end{tikzpicture}
\end{document}
